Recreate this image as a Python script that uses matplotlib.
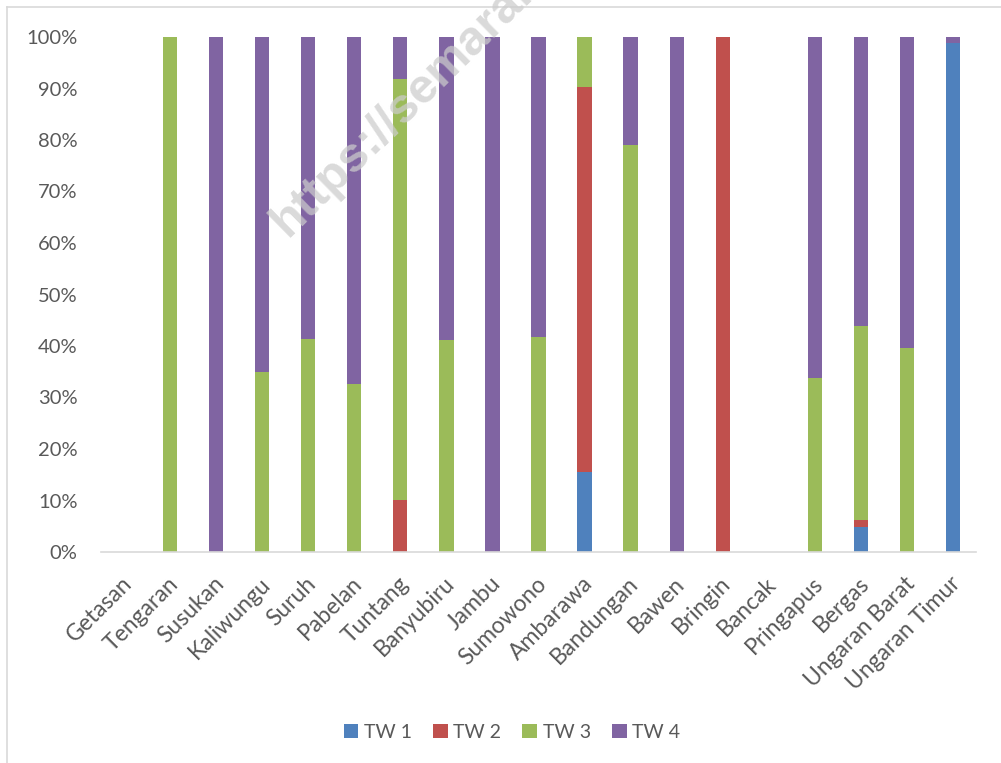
import numpy as np
import matplotlib
matplotlib.use("Agg")
import matplotlib.pyplot as plt
from matplotlib.lines import Line2D
from matplotlib.patches import Patch
from matplotlib.ticker import PercentFormatter

plt.rcParams['font.family'] = ['Lato', 'DejaVu Sans']

# Districts (kecamatan) and the share of each quarter (%)
categories = ["Getasan", "Tengaran", "Susukan", "Kaliwungu", "Suruh", "Pabelan",
              "Tuntang", "Banyubiru", "Jambu", "Sumowono", "Ambarawa", "Bandungan",
              "Bawen", "Bringin", "Bancak", "Pringapus", "Bergas", "Ungaran Barat",
              "Ungaran Timur"]
tw1 = [0, 0, 0, 0, 0, 0, 0, 0, 0, 0, 15.6, 0, 0, 0, 0, 0, 4.9, 0, 98.8]
tw2 = [0, 0, 0, 0, 0, 0, 10.1, 0, 0, 0, 74.6, 0, 0, 100, 0, 0, 1.3, 0, 0]
tw3 = [0, 100, 0, 35.0, 41.3, 32.6, 81.7, 41.1, 0, 41.7, 9.8, 79.0, 0, 0, 0, 33.8, 37.7, 39.6, 0]
tw4 = [0, 0, 100, 65.0, 58.7, 67.4, 8.2, 58.9, 100, 58.3, 0, 21.0, 100, 0, 0, 66.2, 56.1, 60.4, 1.2]
series_names = ["TW 1", "TW 2", "TW 3", "TW 4"]
colors = ["#4F81BD", "#C0504D", "#9BBB59", "#8064A2"]

W, H, DPI = 1001, 763, 100
fig = plt.figure(figsize=(W / DPI, H / DPI), dpi=DPI)
ax = fig.add_axes([101 / W, 1 - 552 / H, 875 / W, 515 / H])

data = np.array([tw1, tw2, tw3, tw4], dtype=float)
totals = data.sum(axis=0)
shares = np.divide(data, totals, out=np.zeros_like(data), where=totals > 0)

x = np.arange(len(categories))
bottom = np.zeros(len(categories))
for vals, col in zip(shares, colors):
    ax.bar(x, vals, width=0.31, bottom=bottom, color=col, linewidth=0, zorder=2)
    bottom += vals

ax.set_xlim(-0.5, len(categories) - 0.5)
ax.set_ylim(0, 1)
ax.set_yticks(np.linspace(0, 1, 11))
ax.yaxis.set_major_formatter(PercentFormatter(1.0, decimals=0))
ax.tick_params(axis='y', length=0, pad=17, labelsize=14.5, labelcolor='#595959')
ax.tick_params(axis='x', length=0, pad=0)
ax.set_xticks(x)
ax.set_xticklabels([])
for xi, name in zip(x, categories):
    ax.text(xi + 0.1, -0.055, name, rotation=45, rotation_mode='anchor',
            ha='right', va='center', fontsize=16.5, color='#595959',
            transform=ax.get_xaxis_transform())

for side in ['left', 'right', 'top']:
    ax.spines[side].set_visible(False)
ax.spines['bottom'].set_color('#d9d9d9')
ax.spines['bottom'].set_linewidth(1.2)

handles = [Patch(facecolor=c, edgecolor='none') for c in colors]
fig.legend(handles, series_names, loc='center', bbox_to_anchor=(512 / W, 1 - 732 / H),
           ncol=4, frameon=False, fontsize=14, labelcolor='#595959',
           handlelength=0.75, handleheight=0.75, handletextpad=0.3, columnspacing=1.08)

# Outer chart border
fig.add_artist(Line2D([7 / W, 1.0], [1 - 7 / H, 1 - 7 / H], color='#d9d9d9', lw=1.2))
fig.add_artist(Line2D([7 / W, 7 / W], [0, 1 - 7 / H], color='#d9d9d9', lw=1.2))

# Source watermark
fig.text(288 / W, 1 - 238 / H, "https://semarangkab.bps.go.id", rotation=44.5,
         fontsize=35, fontweight='bold', color='#cccccc', alpha=0.72,
         ha='left', va='baseline', rotation_mode='anchor',
         family=['Liberation Sans', 'DejaVu Sans'], zorder=10)

fig.savefig("out.png", dpi=DPI)
